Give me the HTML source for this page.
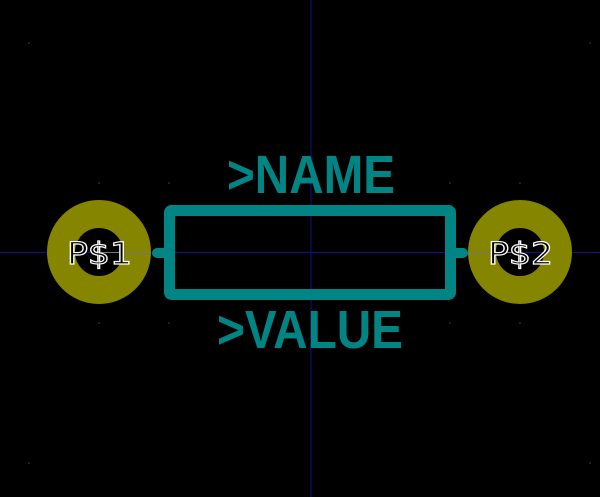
<!DOCTYPE html>
<html><head><style>html,body{margin:0;padding:0;background:#000;}svg{display:block}</style></head>
<body>
<svg width="600" height="497" viewBox="0 0 600 497" xmlns="http://www.w3.org/2000/svg">
<rect width="600" height="497" fill="#000"/>
<g fill="#444">
<circle cx="29" cy="43" r="0.8"/><circle cx="99" cy="183" r="0.8"/><circle cx="169" cy="183" r="0.8"/><circle cx="99" cy="323" r="0.8"/><circle cx="169" cy="323" r="0.8"/>
<circle cx="450" cy="183" r="0.8"/><circle cx="520" cy="183" r="0.8"/><circle cx="450" cy="323" r="0.8"/><circle cx="520" cy="323" r="0.8"/>
<circle cx="29" cy="463" r="0.8"/><circle cx="590" cy="463" r="0.8"/><circle cx="590" cy="43" r="0.8"/>
</g>
<line x1="311" y1="0" x2="311" y2="497" stroke="#10108a" stroke-width="1"/>
<line x1="0" y1="252.5" x2="600" y2="252.5" stroke="#10108a" stroke-width="1"/>
<circle cx="99" cy="252" r="38" fill="none" stroke="#858500" stroke-width="28"/>
<circle cx="520" cy="252" r="38" fill="none" stroke="#858500" stroke-width="28"/>
<line x1="99" y1="252.5" x2="151" y2="252.5" stroke="#777" stroke-width="1"/>
<line x1="469" y1="252.5" x2="520" y2="252.5" stroke="#777" stroke-width="1"/>
<g stroke="#008484" stroke-linecap="round" stroke-linejoin="round" fill="none">
<rect x="169.5" y="210.5" width="281" height="84" stroke-width="11" rx="2"/>
<line x1="157" y1="253" x2="166" y2="253" stroke-width="10"/>
<line x1="455" y1="253" x2="463" y2="253" stroke-width="10"/>
</g>
<g font-family="'Liberation Sans', sans-serif" font-weight="bold" fill="#008484">
<text x="227" y="193" font-size="54" textLength="168" lengthAdjust="spacingAndGlyphs">&gt;NAME</text>
<text x="217" y="348" font-size="54" textLength="186" lengthAdjust="spacingAndGlyphs">&gt;VALUE</text>
</g>
<g font-family="'DejaVu Sans', 'Liberation Sans', sans-serif" font-size="30" fill="#000" stroke="#fff" stroke-width="1.2">
<text x="67" y="264" textLength="65" lengthAdjust="spacingAndGlyphs">P$1</text>
<text x="488" y="264" textLength="65" lengthAdjust="spacingAndGlyphs">P$2</text>
</g>
</svg>
</body></html>
